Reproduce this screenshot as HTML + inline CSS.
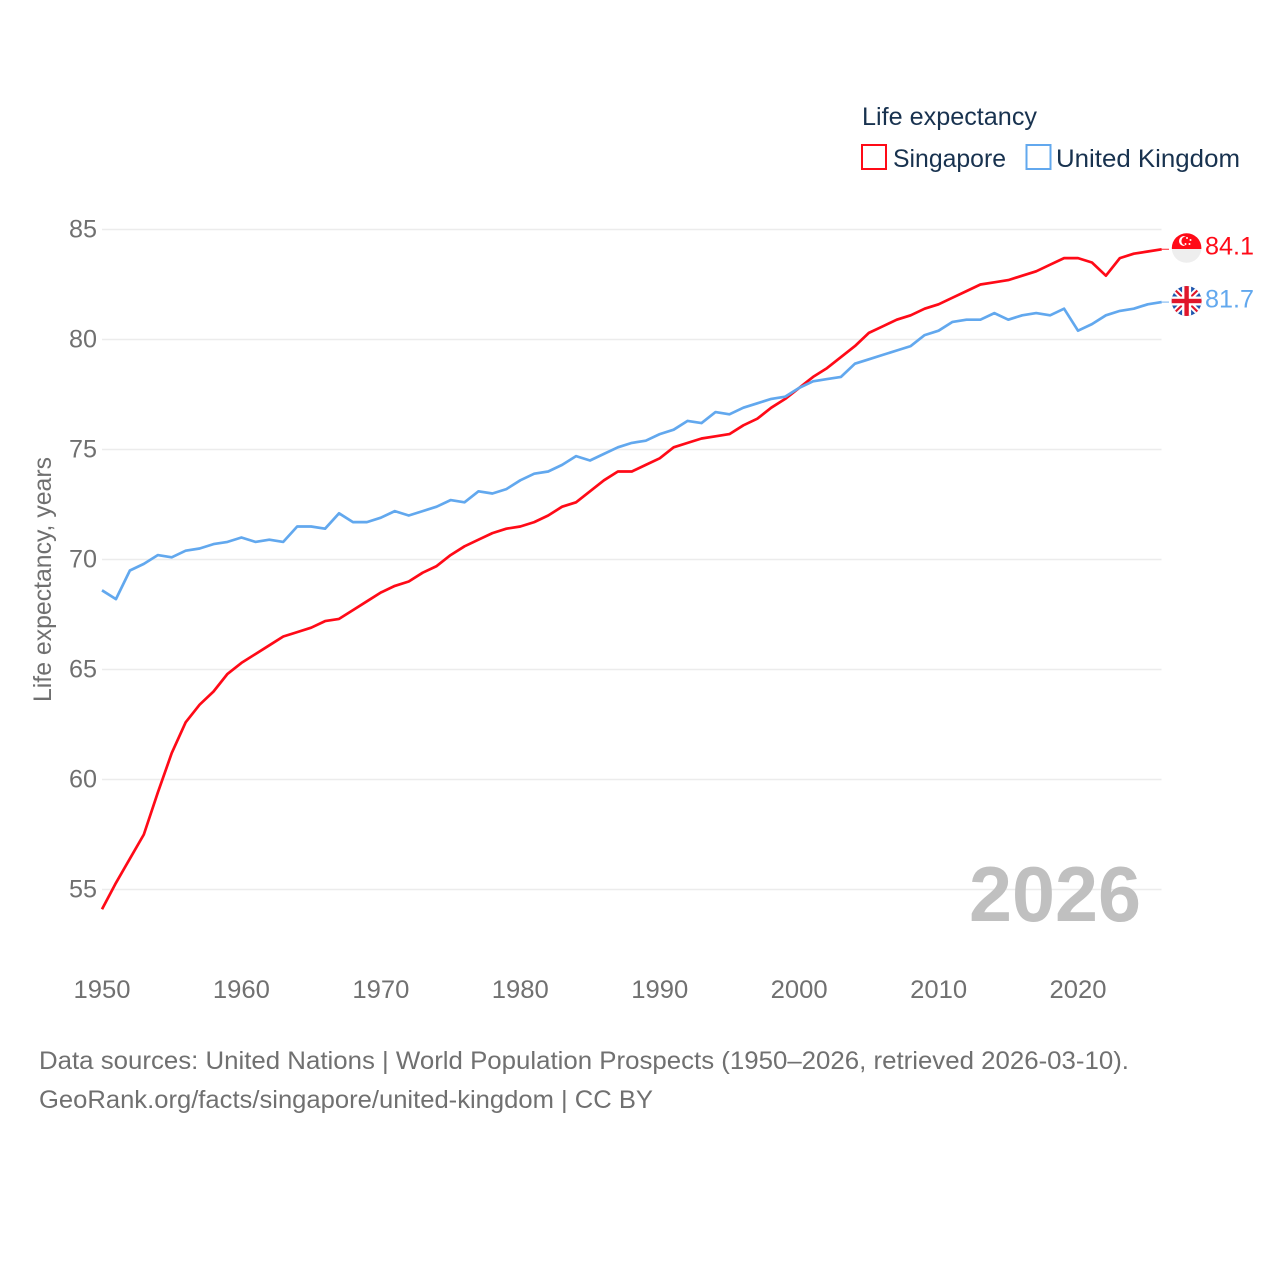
<!DOCTYPE html>
<html lang="en">
<head>
<meta charset="utf-8">
<title>Life expectancy: Singapore and United Kingdom</title>
<style>
html,body{margin:0;padding:0;background:#fff}
svg{display:block}
text{font-family:"Liberation Sans",sans-serif}
</style>
</head>
<body>
<svg id="chart" width="1280" height="1280" viewBox="0 0 1280 1280" xmlns="http://www.w3.org/2000/svg">
  <rect x="0" y="0" width="1280" height="1280" fill="#fff"/>
  <g id="grid"></g>
  <g id="yticks"></g>
  <g id="xticks"></g>
  <text transform="translate(51,579.5) rotate(-90)" text-anchor="middle" font-size="25" fill="#707070" textLength="245" lengthAdjust="spacingAndGlyphs">Life expectancy, years</text>
  <text x="969" y="921" font-size="78" font-weight="700" fill="#c0c0c0" textLength="172" lengthAdjust="spacingAndGlyphs">2026</text>
  <g id="series"></g>

  <g>
    <text x="862" y="125" font-size="25" fill="#18324f" textLength="175" lengthAdjust="spacingAndGlyphs">Life expectancy</text>
    <g>
      <rect x="862" y="145" width="24" height="24" fill="#fff" stroke="#ff0a17" stroke-width="2"/>
      <text x="893" y="167" font-size="25" fill="#18324f" textLength="113" lengthAdjust="spacingAndGlyphs">Singapore</text>
    </g>
    <g>
      <rect x="1026.5" y="145" width="24" height="24" fill="#fff" stroke="#62a8ee" stroke-width="2"/>
      <text x="1056" y="167" font-size="25" fill="#18324f" textLength="184" lengthAdjust="spacingAndGlyphs">United Kingdom</text>
    </g>
  </g>

  <defs>
    <clipPath id="sg-clip"><circle cx="1186.6" cy="248" r="14.8"/></clipPath>
    <clipPath id="uk-clip"><circle cx="1186.6" cy="301" r="15"/></clipPath>
  </defs>
  <g clip-path="url(#sg-clip)">
    <rect x="1170" y="232" width="34" height="17" fill="#ff0a17"/>
    <rect x="1170" y="249" width="34" height="16" fill="#eeeeee"/>
    <circle cx="1184" cy="241" r="5" fill="#fff"/>
    <circle cx="1186" cy="241" r="4.6" fill="#ff0a17"/>
    <circle cx="1187" cy="238" r="1" fill="#fff"/>
    <circle cx="1190.5" cy="240" r="1" fill="#fff"/>
    <circle cx="1189.5" cy="244" r="1" fill="#fff"/>
    <circle cx="1185.5" cy="244" r="1" fill="#fff"/>
  </g>
  <g clip-path="url(#uk-clip)">
    <rect x="1170" y="285" width="34" height="32" fill="#1f55ad"/>
    <path d="M1172 287L1201 315M1201 287L1172 315" stroke="#fff" stroke-width="6" fill="none"/>
    <path d="M1172 287L1201 315M1201 287L1172 315" stroke="#e0162b" stroke-width="2.2" fill="none"/>
    <rect x="1182.1" y="285" width="9" height="32" fill="#fff"/>
    <rect x="1170" y="296.5" width="34" height="9" fill="#fff"/>
    <rect x="1184.4" y="285" width="4.4" height="32" fill="#e0162b"/>
    <rect x="1170" y="298.8" width="34" height="4.4" fill="#e0162b"/>
  </g>
  <text id="label-sg" x="1205" y="254.5" font-size="25" fill="#ff0a17" textLength="49" lengthAdjust="spacingAndGlyphs"></text>
  <text id="label-uk" x="1205" y="307.5" font-size="25" fill="#62a8ee" textLength="49" lengthAdjust="spacingAndGlyphs"></text>

  <g>
    <text x="39" y="1069" font-size="25" fill="#707070" textLength="1090" lengthAdjust="spacingAndGlyphs">Data sources: United Nations | World Population Prospects (1950–2026, retrieved 2026-03-10).</text>
    <text x="39" y="1108" font-size="25" fill="#707070" textLength="614" lengthAdjust="spacingAndGlyphs">GeoRank.org/facts/singapore/united-kingdom | CC BY</text>
  </g>
</svg>
<script>
const startYear = 1950;
const yTickValues = [55, 60, 65, 70, 75, 80, 85];
const xTickValues = [1950, 1960, 1970, 1980, 1990, 2000, 2010, 2020];
const singaporeValues = [
  54.1, 55.3, 56.4, 57.5, 59.4, 61.2, 62.6, 63.4, 64.0, 64.8,
  65.3, 65.7, 66.1, 66.5, 66.7, 66.9, 67.2, 67.3, 67.7, 68.1,
  68.5, 68.8, 69.0, 69.4, 69.7, 70.2, 70.6, 70.9, 71.2, 71.4,
  71.5, 71.7, 72.0, 72.4, 72.6, 73.1, 73.6, 74.0, 74.0, 74.3,
  74.6, 75.1, 75.3, 75.5, 75.6, 75.7, 76.1, 76.4, 76.9, 77.3,
  77.8, 78.3, 78.7, 79.2, 79.7, 80.3, 80.6, 80.9, 81.1, 81.4,
  81.6, 81.9, 82.2, 82.5, 82.6, 82.7, 82.9, 83.1, 83.4, 83.7,
  83.7, 83.5, 82.9, 83.7, 83.9, 84.0, 84.1
];
const unitedKingdomValues = [
  68.6, 68.2, 69.5, 69.8, 70.2, 70.1, 70.4, 70.5, 70.7, 70.8,
  71.0, 70.8, 70.9, 70.8, 71.5, 71.5, 71.4, 72.1, 71.7, 71.7,
  71.9, 72.2, 72.0, 72.2, 72.4, 72.7, 72.6, 73.1, 73.0, 73.2,
  73.6, 73.9, 74.0, 74.3, 74.7, 74.5, 74.8, 75.1, 75.3, 75.4,
  75.7, 75.9, 76.3, 76.2, 76.7, 76.6, 76.9, 77.1, 77.3, 77.4,
  77.8, 78.1, 78.2, 78.3, 78.9, 79.1, 79.3, 79.5, 79.7, 80.2,
  80.4, 80.8, 80.9, 80.9, 81.2, 80.9, 81.1, 81.2, 81.1, 81.4,
  80.4, 80.7, 81.1, 81.3, 81.4, 81.6, 81.7
];

const NS = 'http://www.w3.org/2000/svg';
function xScale(year) { return 102 + (year - 1950) * 13.943; }
function yScale(value) { return 229.5 + (85 - value) * 22; }
function make(tag, parent, attrs, text) {
  const el = document.createElementNS(NS, tag);
  for (const k in attrs) el.setAttribute(k, attrs[k]);
  if (text !== undefined) el.textContent = text;
  parent.appendChild(el);
  return el;
}

const grid = document.getElementById('grid');
const yticks = document.getElementById('yticks');
const xticks = document.getElementById('xticks');
const series = document.getElementById('series');

yTickValues.forEach(function (v) {
  const line = make('line', grid, { x1: 102, x2: 1161.5, y1: yScale(v), y2: yScale(v), stroke: '#ececec', 'stroke-width': 1.6 });
  
  
  const label = make('text', yticks, { x: 97, y: yScale(v) + 8, 'text-anchor': 'end', 'font-size': 25, fill: '#707070', textLength: 28, lengthAdjust: 'spacingAndGlyphs' }, String(v));
  
  
});

xTickValues.forEach(function (year) {
  const label = make('text', xticks, { x: xScale(year), y: 998, 'text-anchor': 'middle', 'font-size': 25, fill: '#707070', textLength: 57, lengthAdjust: 'spacingAndGlyphs' }, String(year));
  
  
});

function linePoints(values) {
  return values.map(function (v, i) {
    return xScale(startYear + i).toFixed(2) + ',' + yScale(v).toFixed(2);
  }).join(' ');
}

const connectorSg = make('line', series, {
  x1: xScale(startYear + singaporeValues.length - 1), x2: 1169,
  y1: yScale(singaporeValues[singaporeValues.length - 1]), y2: yScale(singaporeValues[singaporeValues.length - 1]),
  stroke: '#ff0a17', 'stroke-width': 1.2, opacity: 0.75
});



const connectorUk = make('line', series, {
  x1: xScale(startYear + unitedKingdomValues.length - 1), x2: 1169,
  y1: yScale(unitedKingdomValues[unitedKingdomValues.length - 1]), y2: yScale(unitedKingdomValues[unitedKingdomValues.length - 1]),
  stroke: '#62a8ee', 'stroke-width': 1.2, opacity: 0.75
});



const lineSg = make('polyline', series, { points: linePoints(singaporeValues), fill: 'none', stroke: '#ff0a17', 'stroke-width': 2.7, 'stroke-linejoin': 'round' });



const lineUk = make('polyline', series, { points: linePoints(unitedKingdomValues), fill: 'none', stroke: '#62a8ee', 'stroke-width': 2.7, 'stroke-linejoin': 'round' });



document.getElementById('label-sg').textContent = singaporeValues[singaporeValues.length - 1].toFixed(1);
document.getElementById('label-uk').textContent = unitedKingdomValues[unitedKingdomValues.length - 1].toFixed(1);
</script>
</body>
</html>
